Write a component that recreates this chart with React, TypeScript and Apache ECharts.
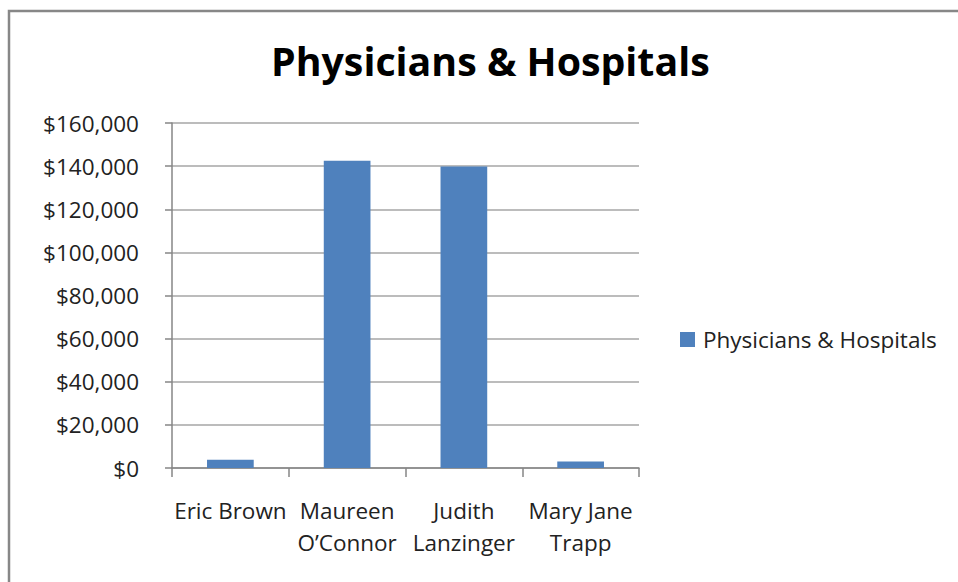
import React, { useEffect, useRef } from "react";
import * as echarts from "echarts";

const categories = ["Eric Brown", "Maureen\nO\u2019Connor", "Judith\nLanzinger", "Mary Jane\nTrapp"];
const seriesName = "Physicians & Hospitals";
const values = [3850, 142500, 139800, 3050];
const yTicks = { min: 0, max: 160000, interval: 20000 };

export default function App() {
  const ref = useRef<HTMLDivElement>(null);
  useEffect(() => {
    if (!ref.current) return;
    const chart = echarts.init(ref.current, null, { renderer: "svg" });
    const font = "Open Sans";
    chart.setOption({
      animation: false,
      backgroundColor: "#ffffff",
      title: {
        text: "Physicians & Hospitals",
        left: 266,
        top: 36,
        textStyle: { fontFamily: font, fontWeight: "bold", fontSize: 39.3, color: "#000" },
      },
      legend: {
        data: [seriesName],
        left: 675,
        top: 323,
        itemWidth: 15,
        itemHeight: 15,
        icon: "rect",
        textStyle: { fontFamily: font, fontSize: 22.5, color: "#222", padding: [0, 0, 0, 3] },
      },
      grid: { left: 172, right: 319, top: 123, bottom: 114, containLabel: false },
      xAxis: {
        type: "category",
        data: categories,
        axisLine: { lineStyle: { color: "#868686", width: 1.5 } },
        axisTick: { show: true, length: 9, lineStyle: { color: "#868686", width: 1.5 } },
        axisLabel: { fontFamily: font, fontSize: 22.5, color: "#222", margin: 26, lineHeight: 32, interval: 0 },
      },
      yAxis: {
        type: "value",
        min: yTicks.min,
        max: yTicks.max,
        interval: yTicks.interval,
        axisLine: { show: true, lineStyle: { color: "#868686", width: 1.5 } },
        axisTick: { show: true, length: 7, lineStyle: { color: "#868686", width: 1.5 } },
        splitLine: { lineStyle: { color: "#a6a6a6", width: 1.5 } },
        axisLabel: {
          fontFamily: font,
          fontSize: 22.5,
          color: "#222",
          margin: 33,
          formatter: (v: number) => "$" + v.toLocaleString("en-US"),
        },
      },
      series: [
        {
          name: seriesName,
          type: "bar",
          data: values,
          barWidth: "40%",
          itemStyle: { color: "#4f81bd" },
        },
      ],
      graphic: [
        {
          type: "rect",
          shape: { x: 9, y: 11, width: 1200, height: 1200 },
          style: { fill: "none", stroke: "#878787", lineWidth: 2.5 },
          silent: true,
        },
      ],
    });
    return () => chart.dispose();
  }, []);
  return <div ref={ref} style={{ position: "absolute", left: 0, top: 0, width: 958, height: 582 }} />;
}
